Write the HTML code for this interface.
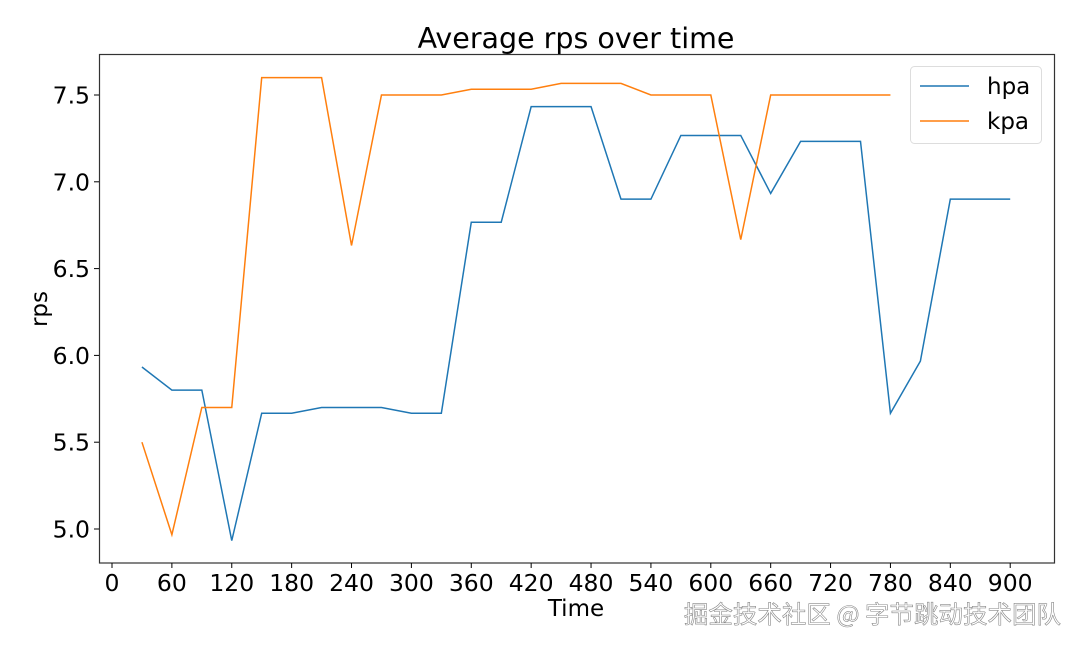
<!DOCTYPE html>
<html><head><meta charset="utf-8"><style>
body{margin:0;background:#fff;}
svg text{font-family:"DejaVu Sans","Liberation Sans",sans-serif;fill:#000;}
</style></head><body>
<svg id="s" width="1080" height="648" xmlns="http://www.w3.org/2000/svg">
<rect width="1080" height="648" fill="#fff"/>
<text x="576" y="48" font-size="28.5" text-anchor="middle">Average rps over time</text>
<rect x="99.5" y="54.5" width="955" height="508.5" fill="none" stroke="#333" stroke-width="1.2"/>
<g id="g"></g>
<text x="576" y="616" font-size="23" text-anchor="middle">Time</text>
<text x="47" y="309" font-size="23" text-anchor="middle" transform="rotate(-90 47 309)">rps</text>
<rect x="910.5" y="66.5" width="131" height="77" rx="4" fill="#fff" stroke="#ddd"/>
<line x1="920" y1="86" x2="969" y2="86" stroke="#1f77b4" stroke-width="1.5"/>
<line x1="920" y1="121" x2="969" y2="121" stroke="#ff7f0e" stroke-width="1.5"/>
<text x="987" y="94" font-size="23">hpa</text>
<text x="987" y="129" font-size="23">kpa</text>
<text x="1061" y="623" font-size="24.5" text-anchor="end" style="fill:#fff;stroke:#888;stroke-width:0.6;font-family:'Noto Sans CJK SC',sans-serif">掘金技术社区 @ 字节跳动技术团队</text>
</svg>
<script>
var X=t=>112+t*0.998, Y=v=>529-(v-5)*173.6, g=document.getElementById('g'),h='';
for(var t=0;t<=900;t+=60){h+=`<line x1="${X(t)}" y1="563" x2="${X(t)}" y2="568" stroke="#000"/><text x="${X(t)}" y="591" font-size="23.5" text-anchor="middle">${t}</text>`;}
[5,5.5,6,6.5,7,7.5].forEach(v=>{h+=`<line x1="94" y1="${Y(v)}" x2="99" y2="${Y(v)}" stroke="#000"/><text x="90" y="${Y(v)+8.5}" font-size="23.5" text-anchor="end">${v.toFixed(1)}</text>`;});
var hp=[5.933,5.8,5.8,4.933,5.667,5.667,5.7,5.7,5.7,5.667,5.667,6.767,6.767,7.433,7.433,7.433,6.9,6.9,7.267,7.267,7.267,6.933,7.233,7.233,7.233,5.667,5.967,6.9,6.9,6.9];
var kp=[5.5,4.967,5.7,5.7,7.6,7.6,7.6,6.633,7.5,7.5,7.5,7.533,7.533,7.533,7.567,7.567,7.567,7.5,7.5,7.5,6.667,7.5,7.5,7.5,7.5,7.5];
function pl(d,c){return `<polyline fill="none" stroke="${c}" stroke-width="1.5" points="${d.map((v,i)=>X(30*(i+1))+','+Y(v)).join(' ')}"/>`;}
h+=pl(hp,'#1f77b4')+pl(kp,'#ff7f0e');
g.innerHTML=h;
</script>
</body></html>
